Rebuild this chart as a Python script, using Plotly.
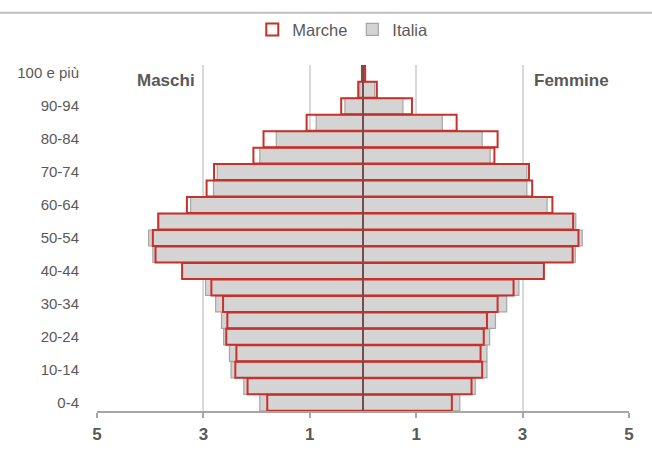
import plotly.graph_objects as go

# Age classes, youngest first (bottom of the pyramid)
age_groups = ['0-4', '5-9', '10-14', '15-19', '20-24', '25-29', '30-34', '35-39',
              '40-44', '45-49', '50-54', '55-59', '60-64', '65-69', '70-74',
              '75-79', '80-84', '85-89', '90-94', '95-99', '100 e più']

# Share of population by age class (%)
marche_maschi = [1.80, 2.17, 2.40, 2.38, 2.57, 2.55, 2.63, 2.85, 3.40, 3.90, 3.95,
                 3.85, 3.31, 2.94, 2.80, 2.06, 1.87, 1.06, 0.41, 0.09, 0.02]
marche_femmine = [1.67, 2.04, 2.24, 2.21, 2.27, 2.33, 2.53, 2.83, 3.40, 3.94, 4.05,
                  3.95, 3.56, 3.18, 3.12, 2.47, 2.53, 1.76, 0.92, 0.26, 0.04]
italia_maschi = [1.94, 2.24, 2.48, 2.51, 2.62, 2.66, 2.77, 2.96, 3.40, 3.95, 4.03,
                 3.84, 3.24, 2.81, 2.74, 1.94, 1.63, 0.88, 0.34, 0.06, 0.02]
italia_femmine = [1.82, 2.11, 2.33, 2.33, 2.38, 2.49, 2.70, 2.93, 3.40, 3.99, 4.12,
                  4.00, 3.46, 3.08, 3.08, 2.39, 2.24, 1.49, 0.75, 0.22, 0.03]

x_ticks = [-5, -3, -1, 1, 3, 5]
x_tick_text = ['5', '3', '1', '1', '3', '5']
y_tick_labels = age_groups[::2]

RED = '#C8302A'
GREY_FILL = '#D4D4D4'
GREY_LINE = '#A6A6A6'
TEXT = '#595959'
GRID = '#D9D9D9'

fig = go.Figure()

# Italia: grey filled bars (drawn first, behind)
fig.add_trace(go.Bar(
    y=age_groups, x=[-v for v in italia_maschi], orientation='h', name='Italia',
    legendgroup='italia', marker=dict(color=GREY_FILL, line=dict(color=GREY_LINE, width=1.2)),
))
fig.add_trace(go.Bar(
    y=age_groups, x=italia_femmine, orientation='h', name='Italia', showlegend=False,
    legendgroup='italia', marker=dict(color=GREY_FILL, line=dict(color=GREY_LINE, width=1.2)),
))
# Marche: red outlined bars on top
fig.add_trace(go.Bar(
    y=age_groups, x=[-v for v in marche_maschi], orientation='h', name='Marche',
    legendgroup='marche', marker=dict(color='rgba(0,0,0,0)', line=dict(color=RED, width=2)),
))
fig.add_trace(go.Bar(
    y=age_groups, x=marche_femmine, orientation='h', name='Marche', showlegend=False,
    legendgroup='marche', marker=dict(color='rgba(0,0,0,0)', line=dict(color=RED, width=2)),
))

fig.update_layout(
    width=652, height=467,
    margin=dict(l=97, r=23, t=65, b=56),
    paper_bgcolor='white', plot_bgcolor='white',
    barmode='overlay', bargap=0.03,
    font=dict(family='Liberation Sans, Arial, sans-serif', color=TEXT),
    legend=dict(
        orientation='h', traceorder='reversed',
        x=0.462, xanchor='center', y=1.102, yanchor='middle',
        font=dict(size=16.5, color=TEXT), itemwidth=30,
        bgcolor='rgba(0,0,0,0)',
    ),
    xaxis=dict(
        range=[-5, 5], tickvals=x_ticks, ticktext=x_tick_text,
        showgrid=True, gridcolor=GRID, gridwidth=1.5,
        zeroline=False,
        showline=True, linecolor=GREY_LINE, linewidth=2,
        ticks='outside', ticklen=5, tickcolor=GREY_LINE, tickwidth=2,
        ticklabelstandoff=2,
        tickfont=dict(family='Liberation Sans Narrow, Arial Narrow, Liberation Sans, sans-serif',
                      size=17, color=TEXT, weight='bold'),
        fixedrange=True,
    ),
    yaxis=dict(
        type='category', categoryorder='array', categoryarray=age_groups,
        tickvals=y_tick_labels, ticktext=y_tick_labels,
        showgrid=False, zeroline=False, showline=False, ticks='',
        ticklabelstandoff=17,
        tickfont=dict(size=15, color=TEXT),
        fixedrange=True,
    ),
    showlegend=True,
)

# Dark vertical axis at zero, above the bars
fig.add_shape(type='line', xref='x', yref='paper', x0=0, x1=0, y0=0, y1=1,
              line=dict(color=TEXT, width=1.5), layer='above')
# Horizontal rule across the top of the figure
fig.add_shape(type='line', xref='paper', yref='paper', x0=-0.19, x1=1.05, y0=1.151, y1=1.151,
              line=dict(color='#BFBFBF', width=2), layer='above')

bold_font = dict(family='Liberation Sans Narrow, Arial Narrow, Liberation Sans, sans-serif',
                 size=17, color=TEXT, weight='bold')
fig.add_annotation(text='Maschi', xref='paper', yref='paper', x=0.1306, y=0.954,
                   xanchor='center', yanchor='middle', showarrow=False, font=bold_font)
fig.add_annotation(text='Femmine', xref='paper', yref='paper', x=0.892, y=0.954,
                   xanchor='center', yanchor='middle', showarrow=False, font=bold_font)

fig.write_html('out.html')
